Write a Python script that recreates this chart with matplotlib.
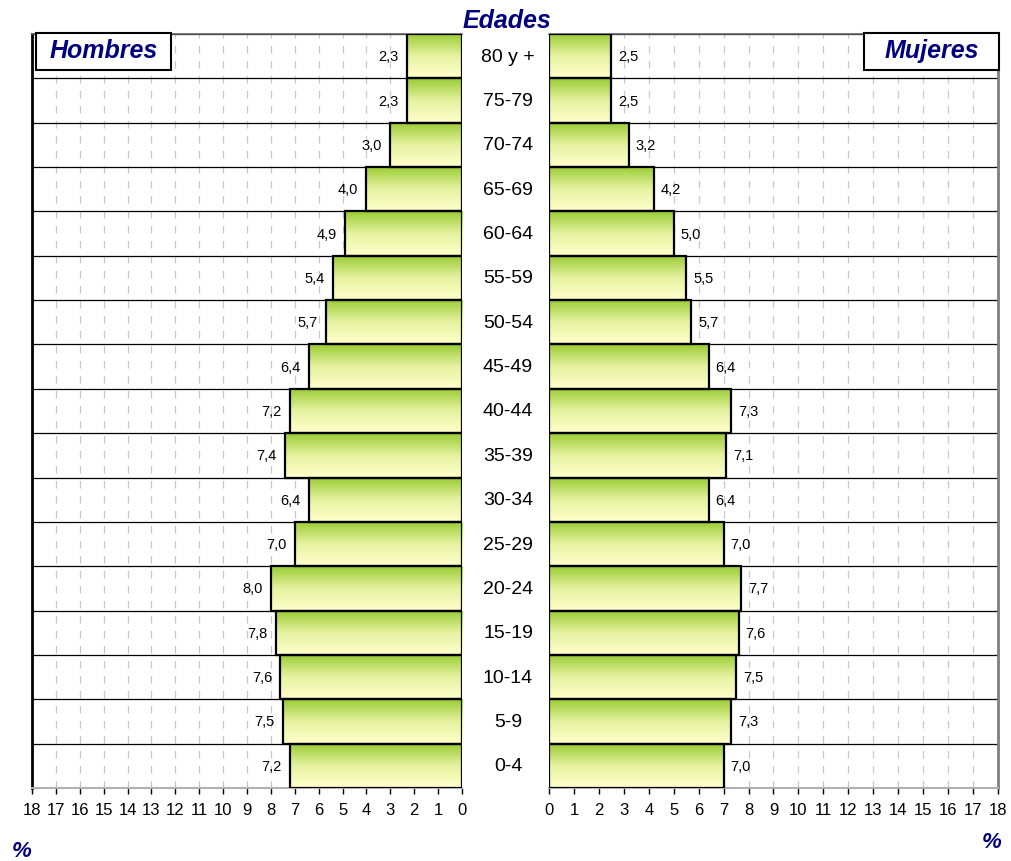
import matplotlib
matplotlib.use('Agg')
import matplotlib.pyplot as plt
import numpy as np
from matplotlib.patches import Rectangle
from matplotlib.colors import LinearSegmentedColormap
import matplotlib.transforms as mtransforms

plt.rcParams['font.family'] = ['Liberation Sans', 'DejaVu Sans']

edades = ['0-4', '5-9', '10-14', '15-19', '20-24', '25-29', '30-34', '35-39', '40-44',
          '45-49', '50-54', '55-59', '60-64', '65-69', '70-74', '75-79', '80 y +']
hombres = [7.2, 7.5, 7.6, 7.8, 8.0, 7.0, 6.4, 7.4, 7.2, 6.4, 5.7, 5.4, 4.9, 4.0, 3.0, 2.3, 2.3]
mujeres = [7.0, 7.3, 7.5, 7.6, 7.7, 7.0, 6.4, 7.1, 7.3, 6.4, 5.7, 5.5, 5.0, 4.2, 3.2, 2.5, 2.5]
ticks = list(range(0, 19))

navy = '#000080'
grad = LinearSegmentedColormap.from_list('g', ['#ffffcc', '#e6f2a0', '#99cc33'])

fig = plt.figure(figsize=(10.12, 8.62), dpi=100)
ax1 = fig.add_axes([32/1012, 1-789/862, 430/1012, 754/862])
ax2 = fig.add_axes([549/1012, 1-789/862, 449/1012, 754/862])


def piramide(ax, valores, lado):
    y = np.arange(len(valores))
    bars = ax.barh(y, valores, height=1.0, facecolor='none', edgecolor='black',
                   linewidth=1.6, zorder=4)
    g = np.linspace(0, 1, 100).reshape(-1, 1)
    for b in bars:
        x0, y0, w, h = b.get_x(), b.get_y(), b.get_width(), b.get_height()
        im = ax.imshow(g, cmap=grad, origin='lower', aspect='auto',
                       extent=[x0, x0 + w, y0, y0 + h], zorder=3)
        im.set_clip_path(b)
    for yi, v in zip(y, valores):
        txt = ('%.1f' % v).replace('.', ',')
        if lado == 'izq':
            ax.annotate(txt, (v, yi), xytext=(-6, 0), textcoords='offset points',
                        ha='right', va='center', fontsize=10.5, zorder=5)
        else:
            ax.annotate(txt, (v, yi), xytext=(5, 0), textcoords='offset points',
                        ha='left', va='center', fontsize=10.5, zorder=5)
    ax.set_ylim(-0.5, len(valores) - 0.5)
    if lado == 'izq':
        ax.set_xlim(18, 0)
    else:
        ax.set_xlim(0, 18)
    ax.set_xticks(ticks)
    ax.set_xticklabels([str(t) for t in ticks])
    ax.set_yticks([])
    ax.set_yticks(np.arange(-0.5, len(valores), 1), minor=True)
    ax.tick_params(axis='y', which='both', length=0)
    ax.tick_params(axis='x', length=4, width=1, pad=6, labelsize=12, direction='out')
    ax.grid(axis='x', which='major', color='#c8c8c8', linestyle=(0, (6, 6)), linewidth=0.9)
    ax.grid(axis='y', which='minor', color='black', linewidth=0.9)
    ax.set_axisbelow(True)
    for s in ax.spines.values():
        s.set_color('#606060')
        s.set_linewidth(1.2)
    ax.spines['bottom'].set_color('#b0b0b0')
    ax.spines['bottom'].set_linewidth(1.5)


piramide(ax1, hombres, 'izq')
piramide(ax2, mujeres, 'der')
ax1.spines['left'].set_color('black')
ax1.spines['left'].set_linewidth(2)
ax1.spines['right'].set_visible(False)
ax2.spines['left'].set_visible(False)
ax2.spines['right'].set_color('#808080')
ax2.spines['right'].set_linewidth(2)

trans = mtransforms.blended_transform_factory(fig.transFigure, ax2.transData)
for i, e in enumerate(edades):
    fig.text(508/1012, i, e, transform=trans, ha='center', va='center', fontsize=14)

fig.text(507/1012, 1-21/862, 'Edades', ha='center', va='center', fontsize=18,
         fontweight='bold', fontstyle='italic', color=navy)

for (x0, x1, txt) in [(36, 171, 'Hombres'), (864, 999, 'Mujeres')]:
    fig.patches.append(Rectangle((x0/1012, 1-71/862), (x1-x0)/1012, 37/862,
                                 transform=fig.transFigure, facecolor='white',
                                 edgecolor='black', linewidth=1.5, zorder=10))
    fig.text((x0+x1)/2/1012, 1-51/862, txt, ha='center', va='center', fontsize=18,
             fontweight='bold', fontstyle='italic', color=navy, zorder=11)

fig.text(22/1012, 1-852/862, '%', ha='center', va='center', fontsize=16,
         fontweight='bold', fontstyle='italic', color=navy)
fig.text(992/1012, 1-843/862, '%', ha='center', va='center', fontsize=16,
         fontweight='bold', fontstyle='italic', color=navy)

fig.savefig('out.png', dpi=100)
